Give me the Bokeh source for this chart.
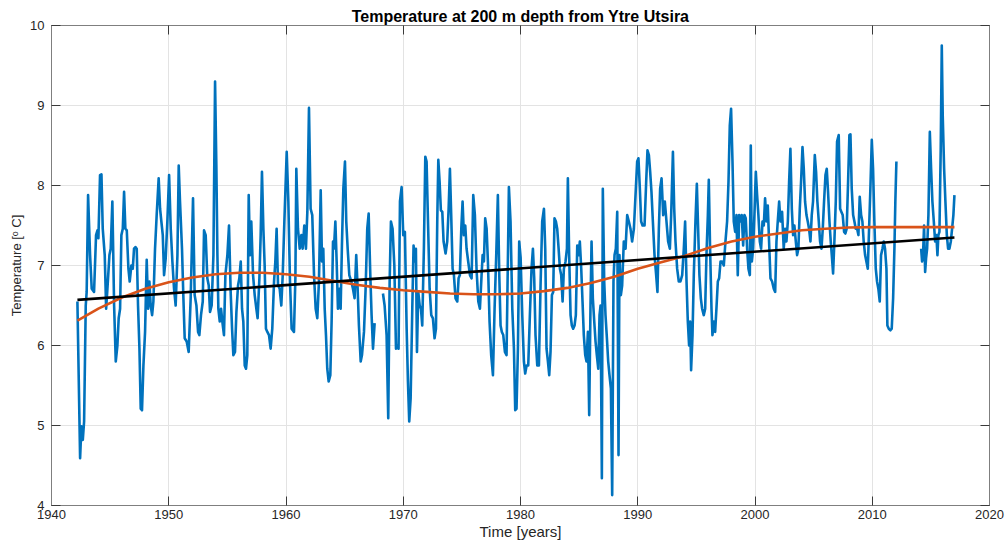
from bokeh.plotting import figure
from bokeh.models import LinearAxis, FixedTicker, CustomJSTickFormatter
from bokeh.embed import file_html
from bokeh.resources import INLINE

NAN = float("nan")

# Ytre Utsira, 200 m depth: continuous stretches of the record (decimal year, deg C)
years_1942_1967 = [
    1942.21, 1942.44, 1942.55, 1942.67, 1942.78, 1942.92, 1943.00, 1943.12, 1943.29, 1943.43,
    1943.63, 1943.80, 1943.92, 1944.00, 1944.14, 1944.26, 1944.37, 1944.54, 1944.66, 1944.77,
    1944.94, 1945.05, 1945.19, 1945.34, 1945.48, 1945.62, 1945.73, 1945.85, 1945.96, 1946.08,
    1946.19, 1946.30, 1946.42, 1946.56, 1946.67, 1946.81, 1946.93, 1947.04, 1947.16, 1947.27,
    1947.38, 1947.50, 1947.61, 1947.72, 1947.84, 1947.98, 1948.12, 1948.24, 1948.35, 1948.46,
    1948.58, 1948.69, 1948.83, 1948.97, 1949.14, 1949.26, 1949.37, 1949.49, 1949.60, 1949.74,
    1949.88, 1950.03, 1950.17, 1950.31, 1950.45, 1950.59, 1950.74, 1950.85, 1950.96, 1951.13,
    1951.25, 1951.36, 1951.53, 1951.70, 1951.87, 1952.07, 1952.21, 1952.36, 1952.50, 1952.61,
    1952.75, 1952.90, 1953.01, 1953.15, 1953.29, 1953.41, 1953.52, 1953.66, 1953.81, 1953.95,
    1954.06, 1954.15, 1954.23, 1954.35, 1954.46, 1954.57, 1954.71, 1954.83, 1955.00, 1955.14,
    1955.28, 1955.40, 1955.51, 1955.65, 1955.77, 1955.91, 1956.02, 1956.14, 1956.25, 1956.36,
    1956.48, 1956.59, 1956.70, 1956.82, 1956.93, 1957.04, 1957.19, 1957.33, 1957.47, 1957.58,
    1957.73, 1957.84, 1957.95, 1958.07, 1958.18, 1958.29, 1958.41, 1958.55, 1958.69, 1958.83,
    1958.98, 1959.09, 1959.20, 1959.32, 1959.46, 1959.60, 1959.72, 1959.86, 1960.06, 1960.20,
    1960.34, 1960.48, 1960.68, 1960.80, 1960.88, 1961.02, 1961.17, 1961.31, 1961.42, 1961.56,
    1961.70, 1961.82, 1961.96, 1962.10, 1962.24, 1962.39, 1962.53, 1962.67, 1962.81, 1962.96,
    1963.07, 1963.18, 1963.30, 1963.41, 1963.52, 1963.64, 1963.78, 1963.89, 1964.01, 1964.09,
    1964.21, 1964.32, 1964.43, 1964.55, 1964.66, 1964.77, 1964.89, 1965.03, 1965.14, 1965.26,
    1965.40, 1965.57, 1965.71, 1965.85, 1965.99, 1966.11, 1966.22, 1966.37, 1966.48, 1966.65,
    1966.79, 1966.93, 1967.05, 1967.19, 1967.30, 1967.42, 1967.56,
]
temp_1942_1967 = [
    6.55, 4.59, 4.99, 4.82, 5.05, 6.50, 6.67, 7.88, 7.13, 6.71,
    6.67, 7.38, 7.44, 7.34, 8.13, 8.14, 7.46, 7.13, 6.46, 6.71,
    7.13, 7.21, 7.80, 6.50, 5.80, 6.00, 6.34, 6.46, 7.38, 7.46,
    7.92, 7.46, 7.44, 6.96, 6.80, 7.00, 6.96, 7.21, 7.23, 7.21,
    6.50, 5.96, 5.21, 5.19, 5.75, 6.17, 7.07, 6.46, 6.80, 6.50,
    6.38, 6.55, 7.21, 7.63, 8.09, 7.71, 7.55, 7.38, 6.88, 7.09,
    7.55, 8.13, 7.46, 7.05, 6.71, 6.50, 7.13, 8.25, 7.80, 7.21,
    6.59, 6.09, 6.05, 5.92, 6.59, 7.84, 6.63, 6.50, 6.17, 6.13,
    6.38, 6.55, 7.44, 7.38, 6.84, 6.75, 6.42, 6.50, 7.13, 9.30,
    8.25, 7.13, 6.46, 6.30, 6.46, 6.30, 6.13, 6.88, 7.13, 7.50,
    6.67, 6.21, 5.88, 5.92, 6.42, 6.75, 6.84, 7.05, 6.46, 6.30,
    5.75, 5.71, 5.88, 7.88, 7.13, 7.55, 6.88, 6.63, 6.46, 6.34,
    6.84, 7.38, 8.17, 7.46, 7.00, 6.21, 6.17, 6.13, 5.96, 6.21,
    6.80, 7.05, 7.46, 6.75, 6.71, 6.50, 6.88, 7.55, 8.42, 7.80,
    6.80, 6.21, 6.17, 6.84, 8.21, 7.46, 7.21, 7.38, 7.21, 7.50,
    7.21, 7.67, 8.97, 7.71, 7.63, 6.88, 6.46, 6.34, 6.80, 7.94,
    7.05, 7.21, 6.46, 6.13, 5.71, 5.55, 5.63, 6.30, 7.30, 7.21,
    7.55, 7.05, 6.46, 6.71, 6.46, 7.25, 7.96, 8.30, 7.55, 7.21,
    6.88, 6.80, 6.71, 6.59, 7.13, 6.71, 6.25, 5.80, 5.88, 6.17,
    6.71, 7.46, 7.65, 6.88, 6.38, 5.96, 6.28,
]

years_1968_2012 = [
    1968.27, 1968.41, 1968.58, 1968.72, 1968.84, 1968.95, 1969.09, 1969.24, 1969.38, 1969.49,
    1969.60, 1969.72, 1969.86, 1970.00, 1970.14, 1970.29, 1970.40, 1970.51, 1970.63, 1970.77,
    1970.88, 1971.00, 1971.08, 1971.17, 1971.28, 1971.40, 1971.51, 1971.62, 1971.76, 1971.88,
    1971.99, 1972.11, 1972.25, 1972.39, 1972.53, 1972.67, 1972.79, 1972.90, 1972.99, 1973.10,
    1973.21, 1973.33, 1973.44, 1973.61, 1973.75, 1973.87, 1973.98, 1974.09, 1974.21, 1974.32,
    1974.46, 1974.61, 1974.72, 1974.83, 1974.95, 1975.06, 1975.17, 1975.29, 1975.40, 1975.54,
    1975.69, 1975.83, 1975.97, 1976.11, 1976.25, 1976.40, 1976.54, 1976.68, 1976.77, 1976.88,
    1976.99, 1977.11, 1977.22, 1977.36, 1977.50, 1977.65, 1977.79, 1977.93, 1978.07, 1978.19,
    1978.30, 1978.41, 1978.53, 1978.67, 1978.81, 1978.93, 1979.01, 1979.15, 1979.30, 1979.44,
    1979.55, 1979.66, 1979.78, 1979.89, 1980.01, 1980.15, 1980.29, 1980.40, 1980.52, 1980.66,
    1980.80, 1980.94, 1981.06, 1981.17, 1981.28, 1981.43, 1981.57, 1981.71, 1981.85, 1982.00,
    1982.11, 1982.22, 1982.34, 1982.45, 1982.56, 1982.68, 1982.79, 1982.90, 1983.02, 1983.13,
    1983.25, 1983.36, 1983.47, 1983.59, 1983.70, 1983.84, 1983.96, 1984.04, 1984.15, 1984.27,
    1984.38, 1984.49, 1984.61, 1984.72, 1984.84, 1984.95, 1985.06, 1985.18, 1985.29, 1985.40,
    1985.52, 1985.63, 1985.75, 1985.86, 1985.97, 1986.06, 1986.17, 1986.29, 1986.40, 1986.51,
    1986.63, 1986.74, 1986.83, 1986.94, 1987.02, 1987.14, 1987.25, 1987.37, 1987.48, 1987.59,
    1987.71, 1987.82, 1987.93, 1988.02, 1988.13, 1988.25, 1988.36, 1988.44, 1988.56, 1988.67,
    1988.81, 1988.96, 1989.10, 1989.24, 1989.38, 1989.52, 1989.67, 1989.81, 1989.95, 1990.06,
    1990.18, 1990.29, 1990.41, 1990.58, 1990.72, 1990.83, 1990.95, 1991.06, 1991.17, 1991.29,
    1991.43, 1991.57, 1991.68, 1991.80, 1991.91, 1992.03, 1992.17, 1992.31, 1992.45, 1992.59,
    1992.74, 1992.85, 1993.00, 1993.11, 1993.22, 1993.36, 1993.50, 1993.64, 1993.79, 1993.93,
    1994.04, 1994.16, 1994.27, 1994.38, 1994.47, 1994.55, 1994.67, 1994.78, 1994.92, 1995.04,
    1995.15, 1995.26, 1995.38, 1995.49, 1995.63, 1995.75, 1995.86, 1995.98, 1996.06, 1996.17,
    1996.29, 1996.37, 1996.49, 1996.60, 1996.71, 1996.83, 1996.94, 1997.06, 1997.20, 1997.34,
    1997.48, 1997.62, 1997.74, 1997.85, 1997.96, 1998.08, 1998.19, 1998.31, 1998.42, 1998.53,
    1998.65, 1998.76, 1998.87, 1998.99, 1999.10, 1999.21, 1999.33, 1999.44, 1999.56, 1999.64,
    1999.73, 1999.84, 1999.95, 2000.07, 2000.18, 2000.29, 2000.41, 2000.52, 2000.64, 2000.75,
    2000.86, 2000.98, 2001.09, 2001.20, 2001.32, 2001.46, 2001.60, 2001.72, 2001.83, 2001.94,
    2002.06, 2002.17, 2002.31, 2002.45, 2002.57, 2002.68, 2002.80, 2002.91, 2003.02, 2003.14,
    2003.25, 2003.36, 2003.48, 2003.59, 2003.70, 2003.82, 2003.93, 2004.05, 2004.16, 2004.27,
    2004.39, 2004.50, 2004.61, 2004.73, 2004.84, 2004.95, 2005.10, 2005.21, 2005.32, 2005.44,
    2005.55, 2005.67, 2005.78, 2005.89, 2006.01, 2006.12, 2006.23, 2006.35, 2006.46, 2006.57,
    2006.66, 2006.77, 2006.89, 2007.00, 2007.14, 2007.26, 2007.37, 2007.48, 2007.60, 2007.71,
    2007.82, 2007.94, 2008.05, 2008.14, 2008.25, 2008.37, 2008.48, 2008.59, 2008.71, 2008.82,
    2008.93, 2009.05, 2009.16, 2009.27, 2009.39, 2009.50, 2009.62, 2009.73, 2009.84, 2009.96,
    2010.07, 2010.18, 2010.30, 2010.41, 2010.52, 2010.64, 2010.75, 2010.87, 2010.98, 2011.09,
    2011.21, 2011.29, 2011.41, 2011.55, 2011.66, 2011.78, 2011.89, 2011.97, 2012.06,
]
temp_1968_2012 = [
    6.65, 6.50, 6.13, 5.09, 6.80, 7.55, 7.46, 7.00, 5.96, 6.00,
    5.96, 7.80, 7.98, 7.38, 7.42, 6.21, 5.55, 5.05, 5.34, 6.46,
    7.25, 7.05, 7.21, 5.92, 6.67, 6.50, 6.46, 6.25, 7.21, 8.36,
    8.30, 7.55, 6.71, 6.38, 6.34, 6.09, 6.21, 7.55, 8.32, 8.05,
    7.69, 7.67, 7.30, 7.15, 7.30, 7.71, 8.21, 7.63, 6.96, 6.88,
    6.59, 6.55, 6.84, 6.88, 7.46, 7.80, 7.38, 7.50, 7.21, 7.05,
    6.88, 6.84, 7.88, 7.63, 6.96, 6.55, 6.46, 6.88, 7.13, 7.05,
    7.59, 7.46, 7.05, 6.30, 5.88, 5.63, 6.46, 7.13, 7.88, 6.88,
    6.25, 6.17, 6.13, 5.92, 5.88, 7.13, 7.98, 7.55, 6.46, 5.96,
    5.19, 5.21, 5.96, 7.30, 7.10, 6.38, 5.80, 5.65, 5.75, 5.75,
    6.38, 6.96, 7.21, 6.84, 6.13, 5.75, 5.75, 6.75, 7.55, 7.71,
    7.21, 5.96, 5.80, 5.63, 5.92, 6.63, 6.67, 7.59, 7.55, 7.46,
    7.21, 6.96, 6.88, 6.55, 6.96, 7.05, 7.21, 8.09, 7.13, 6.38,
    6.25, 6.21, 6.25, 6.38, 7.25, 7.13, 7.30, 6.96, 6.55, 6.13,
    5.88, 5.80, 6.17, 5.13, 6.50, 7.30, 6.59, 6.30, 6.05, 5.88,
    5.71, 6.38, 6.50, 4.34, 7.96, 6.80, 6.38, 6.09, 5.80, 5.63,
    5.46, 4.13, 6.80, 7.13, 7.21, 7.67, 4.63, 7.13, 6.63, 6.75,
    7.30, 7.21, 7.63, 7.55, 7.46, 7.30, 7.46, 7.88, 8.30, 8.34,
    7.96, 7.55, 7.50, 7.50, 8.05, 8.44, 8.38, 8.17, 7.92, 7.55,
    7.13, 6.88, 6.67, 7.46, 7.96, 8.09, 7.63, 7.80, 7.55, 7.30,
    7.21, 7.63, 8.42, 7.71, 7.30, 6.96, 6.80, 6.80, 6.88, 7.21,
    7.55, 6.80, 6.30, 6.00, 6.30, 5.69, 6.13, 6.88, 7.55, 8.02,
    7.46, 6.88, 6.59, 6.46, 6.38, 6.46, 7.13, 7.63, 8.07, 7.21,
    6.46, 6.13, 6.30, 6.17, 6.46, 6.80, 6.84, 7.05, 7.05, 7.00,
    7.30, 7.55, 8.05, 8.75, 8.96, 8.30, 7.55, 7.42, 7.63, 6.88,
    7.63, 7.55, 7.63, 7.25, 7.63, 7.59, 7.21, 6.96, 6.88, 8.50,
    7.05, 7.21, 7.63, 8.17, 7.88, 7.63, 7.30, 7.21, 7.55, 7.50,
    7.84, 7.55, 7.75, 7.30, 6.84, 6.80, 6.71, 6.67, 7.30, 7.55,
    7.80, 7.55, 7.67, 7.21, 7.46, 7.30, 7.55, 8.05, 8.46, 7.71,
    7.38, 7.50, 7.30, 7.13, 7.21, 7.71, 8.05, 8.48, 8.21, 7.80,
    7.63, 7.55, 7.46, 7.30, 7.63, 7.80, 8.38, 8.17, 7.80, 7.55,
    7.30, 7.21, 7.46, 7.80, 8.13, 8.21, 7.92, 7.55, 7.30, 7.09,
    6.90, 7.30, 7.80, 8.55, 8.63, 7.71, 7.67, 7.63, 7.42, 7.40,
    7.46, 8.05, 8.63, 8.64, 7.96, 7.63, 7.55, 7.46, 7.46, 7.38,
    7.86, 7.63, 7.55, 7.30, 7.13, 7.05, 6.96, 7.46, 7.96, 8.57,
    8.21, 7.55, 6.96, 6.80, 6.71, 6.55, 7.13, 7.21, 7.30, 7.21,
    6.96, 6.25, 6.21, 6.19, 6.21, 6.59, 7.21, 7.80, 8.30,
]

years_2014_2017 = [
    2014.17, 2014.25, 2014.34, 2014.42, 2014.51, 2014.59, 2014.68, 2014.79, 2014.91, 2015.02,
    2015.13, 2015.25, 2015.36, 2015.47, 2015.56, 2015.64, 2015.73, 2015.84, 2015.93, 2016.01,
    2016.13, 2016.24, 2016.36, 2016.47, 2016.58, 2016.70, 2016.81, 2016.92, 2017.01,
]
temp_2014_2017 = [
    7.21, 7.05, 7.17, 7.50, 6.92, 7.09, 7.21, 7.63, 8.67, 8.21,
    7.80, 7.55, 7.30, 7.38, 7.13, 7.38, 7.42, 8.46, 9.75, 8.88,
    8.21, 7.80, 7.38, 7.21, 7.21, 7.30, 7.46, 7.63, 7.88,
]

# Linear trend over the record
trend_years = [1942.21, 2017.01]
trend_temp = [6.57, 7.35]

# Smoothed (low-order fit) curve
smooth_years = [
    1942.21, 1944, 1946, 1948, 1950, 1952, 1954, 1956, 1958, 1960,
    1962, 1964, 1966, 1968, 1970, 1972, 1974, 1976, 1978, 1980,
    1982, 1984, 1986, 1988, 1990, 1992, 1994, 1996, 1998, 2000,
    2002, 2004, 2006, 2008, 2010, 2012, 2014, 2017.01,
]
smooth_temp = [
    6.31, 6.46, 6.60, 6.71, 6.79, 6.85, 6.89, 6.91, 6.91, 6.89,
    6.86, 6.81, 6.76, 6.72, 6.69, 6.67, 6.65, 6.64, 6.64, 6.65,
    6.68, 6.72, 6.78, 6.86, 6.96, 7.04, 7.12, 7.22, 7.30, 7.36,
    7.40, 7.44, 7.46, 7.475, 7.48, 7.48, 7.48, 7.48,
]

x_ticks = [1940, 1950, 1960, 1970, 1980, 1990, 2000, 2010, 2020]
y_ticks = [4, 5, 6, 7, 8, 9, 10]

# join the stretches, leaving breaks where the record has gaps
obs_years = years_1942_1967 + [NAN] + years_1968_2012 + [NAN] + years_2014_2017
obs_temp = temp_1942_1967 + [NAN] + temp_1968_2012 + [NAN] + temp_2014_2017

FONT = "Liberation Sans"
AX_COLOR = "#7f7f7f"
TICK_COLOR = "#3a3a3a"
TEXT_COLOR = "#262626"

p = figure(
    width=1005, height=543,
    x_range=(1940, 2020), y_range=(4, 10),
    output_backend="svg", toolbar_location=None,
    min_border_left=51, min_border_right=16,
    min_border_top=25, min_border_bottom=38,
    background_fill_color="white", border_fill_color="white",
)
p.outline_line_color = AX_COLOR
p.outline_line_width = 1

p.title.text = "Temperature at 200 m depth from Ytre Utsira"
p.title.align = "center"
p.title.text_font = FONT
p.title.text_font_size = "16px"
p.title.text_font_style = "bold"
p.title.text_color = "#000000"
p.title.standoff = 2
p.title.offset = -5


def style_axis(ax, show_labels):
    ax.axis_line_color = AX_COLOR
    ax.major_tick_line_color = TICK_COLOR
    ax.major_tick_in = 9
    ax.major_tick_out = 0
    ax.minor_tick_line_color = None
    if show_labels:
        ax.major_label_text_font = FONT
        ax.major_label_text_font_size = "13px"
        ax.major_label_text_color = TEXT_COLOR
        ax.axis_label_text_font = FONT
        ax.axis_label_text_font_style = "normal"
        ax.axis_label_text_color = TEXT_COLOR
    else:
        ax.major_label_text_font_size = "0px"
        ax.major_label_standoff = 0
        ax.formatter = CustomJSTickFormatter(code="return ''")


xb = p.xaxis[0]
xb.ticker = FixedTicker(ticks=x_ticks)
style_axis(xb, True)
xb.axis_label = "Time [years]"
xb.axis_label_text_font_size = "15px"
xb.major_label_standoff = 4
xb.axis_label_standoff = 1

yl = p.yaxis[0]
yl.ticker = FixedTicker(ticks=y_ticks)
style_axis(yl, True)
yl.axis_label = "Temperature [ᵒ C]"
yl.axis_label_text_font_size = "13px"
yl.major_label_standoff = 7
yl.axis_label_standoff = 3

xt = LinearAxis(ticker=FixedTicker(ticks=x_ticks))
style_axis(xt, False)
p.add_layout(xt, "above")

yr = LinearAxis(ticker=FixedTicker(ticks=y_ticks))
style_axis(yr, False)
p.add_layout(yr, "right")

p.xgrid.ticker = FixedTicker(ticks=x_ticks)
p.ygrid.ticker = FixedTicker(ticks=y_ticks)
p.xgrid.grid_line_color = "#e3e3e3"
p.ygrid.grid_line_color = "#e3e3e3"

p.line(obs_years, obs_temp, line_color="#0072BD", line_width=2.6, line_join="round")
p.line(smooth_years, smooth_temp, line_color="#D95319", line_width=2.6)
p.line(trend_years, trend_temp, line_color="#000000", line_width=2.6)

open("out.html", "w").write(file_html(p, INLINE))
